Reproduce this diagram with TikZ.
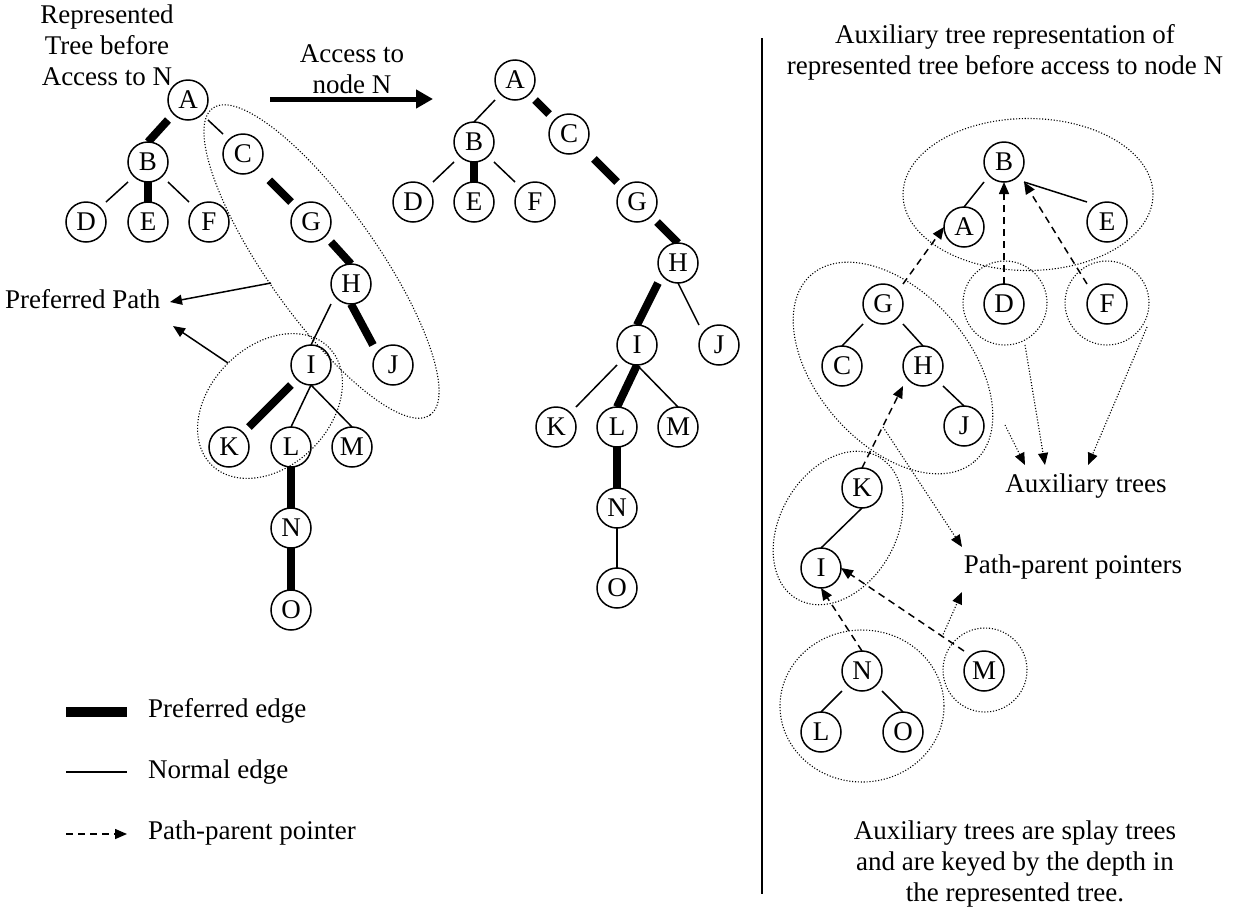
\documentclass[tikz,border=0pt]{standalone}
\usepackage{fontspec}
\setmainfont{Liberation Serif}
\usetikzlibrary{arrows.meta}
\pgfdeclarelayer{edges}
\pgfsetlayers{edges,main}
\begin{document}
\begin{tikzpicture}[x=1pt,y=-1pt,
  every node/.style={font=\fontsize{27}{31}\selectfont},
  vert/.style={draw, fill=white, rectangle, rounded corners=20pt, minimum size=40pt, inner sep=0pt, outer sep=0pt, line width=1.5pt},
  txt/.style={align=center, inner sep=0pt},
  normaledge/.style={line width=1.5pt},
  prefedge/.style={line width=8pt},
  ptr/.style={line width=1.5pt, dash pattern=on 7pt off 5pt, -{Triangle[length=12pt,width=10pt]}},
  grp/.style={line width=1.1pt, dash pattern=on 1.1pt off 1.8pt},
  notearrow/.style={line width=1.1pt, dash pattern=on 1.1pt off 1.8pt, -{Triangle[length=12pt,width=10pt]}},
  labelarrow/.style={line width=1.5pt, -{Triangle[length=12pt,width=10pt]}},
]
\path[use as bounding box] (0,0) rectangle (1237,911);

% ---------------- texts ----------------
\node[txt] (reptitle) at (107,45) {Represented\\Tree before\\Access to N};
\node[txt] (acctext) at (352,69.5) {Access to\\node N};
\node[txt, anchor=base west] (pptext) at (5,308) {Preferred Path};
\node[txt] (auxtitle) at (1005,52) {Auxiliary tree representation of\\represented tree before access to node N};
\node[txt, anchor=base] (auxtrees) at (1086,492) {Auxiliary trees};
\node[txt, anchor=base] (ppptext) at (1073,573) {Path-parent pointers};
\node[txt] (notetext) at (1015,864) {Auxiliary trees are splay trees\\and are keyed by the depth in\\the represented tree.};

% ---------------- left tree ----------------
\node[vert] (lA) at (188,100) {A};
\node[vert] (lB) at (148,162) {B};
\node[vert] (lC) at (243,154) {C};
\node[vert] (lD) at (86,222) {D};
\node[vert] (lE) at (148,222) {E};
\node[vert] (lF) at (209,222) {F};
\node[vert] (lG) at (311,222) {G};
\node[vert] (lH) at (351,284) {H};
\node[vert] (lI) at (311,365) {I};
\node[vert] (lJ) at (393,365) {J};
\node[vert] (lK) at (229,447) {K};
\node[vert] (lL) at (291,447) {L};
\node[vert] (lM) at (352,447) {M};
\node[vert] (lN) at (291,528) {N};
\node[vert] (lO) at (291,610) {O};

% ---------------- middle tree ----------------
\node[vert] (mA) at (515,80) {A};
\node[vert] (mB) at (474,142) {B};
\node[vert] (mC) at (569,134) {C};
\node[vert] (mD) at (413,202) {D};
\node[vert] (mE) at (474,202) {E};
\node[vert] (mF) at (535,202) {F};
\node[vert] (mG) at (637,202) {G};
\node[vert] (mH) at (678,263) {H};
\node[vert] (mI) at (637,345) {I};
\node[vert] (mJ) at (719,345) {J};
\node[vert] (mK) at (556,427) {K};
\node[vert] (mL) at (617,427) {L};
\node[vert] (mM) at (678,427) {M};
\node[vert] (mN) at (617,508) {N};
\node[vert] (mO) at (617,588) {O};

% ---------------- right (auxiliary) trees ----------------
\node[vert] (rB) at (1004,162) {B};
\node[vert] (rA) at (964,227) {A};
\node[vert] (rE) at (1107,222) {E};
\node[vert] (rG) at (883,304) {G};
\node[vert] (rD) at (1004,304) {D};
\node[vert] (rF) at (1107,304) {F};
\node[vert] (rC) at (842,366) {C};
\node[vert] (rH) at (923,366) {H};
\node[vert] (rJ) at (964,426) {J};
\node[vert] (rK) at (862,488) {K};
\node[vert] (rI) at (821,568) {I};
\node[vert] (rN) at (862,671) {N};
\node[vert] (rM) at (984,671) {M};
\node[vert] (rL) at (821,732) {L};
\node[vert] (rO) at (903,732) {O};

% free-end coordinates
\coordinate (accS) at (270,99);
\coordinate (accE) at (433,99);
\coordinate (ppA) at (271,283);
\coordinate (ppAend) at (170,302);
\coordinate (ppB) at (228,363);
\coordinate (ppBend) at (173,326);
\coordinate (aux1s) at (1005,425);
\coordinate (aux1e) at (1025,465);
\coordinate (aux2s) at (1025,345);
\coordinate (aux2e) at (1045,465);
\coordinate (aux3s) at (1147,327);
\coordinate (aux3e) at (1088,465);
\coordinate (ppp1s) at (883,427);
\coordinate (ppp1e) at (962,547);
\coordinate (ppp2s) at (942,637);
\coordinate (ppp2e) at (962,592);
\coordinate (sepT) at (762,38);
\coordinate (sepB) at (762,894);
\coordinate (legPs) at (66,712);
\coordinate (legPe) at (127,712);
\coordinate (legNs) at (66,772);
\coordinate (legNe) at (127,772);
\coordinate (legDs) at (66,834);
\coordinate (legDe) at (127,834);

\begin{pgfonlayer}{edges}
% left tree edges
\draw[prefedge] (lA.south west) -- (lB.north);
\draw[normaledge] (lA.south east) -- (lC.north west);
\draw[normaledge] (lB.south west) -- (lD.north east);
\draw[prefedge] (lB.south) -- (lE.north);
\draw[normaledge] (lB.south east) -- (lF.north west);
\draw[prefedge, shorten <=9pt] (lC.south east) -- (lG.north west);
\draw[prefedge] (lG.south east) -- (lH.north);
\draw[normaledge] (lH.south west) -- (lI.north);
\draw[prefedge] (lH.south) -- (lJ.north west);
\draw[prefedge] (lI.south west) -- (lK.north east);
\draw[normaledge] (lI.south) -- (lL.north);
\draw[normaledge] (lI.south) -- (lM.north);
\draw[prefedge] (lL.south) -- (lN.north);
\draw[prefedge] (lN.south) -- (lO.north);
% middle tree edges
\draw[normaledge] (mA.south west) -- (mB.north);
\draw[prefedge] (mA.south east) -- (mC.north west);
\draw[normaledge] (mB.south west) -- (mD.north east);
\draw[prefedge] (mB.south) -- (mE.north);
\draw[normaledge] (mB.south east) -- (mF.north west);
\draw[prefedge, shorten <=7pt] (mC.south east) -- (mG.north west);
\draw[prefedge] (mG.south east) -- (mH.north);
\draw[prefedge] (mH.south west) -- (mI.north);
\draw[normaledge] (mH.south) -- (mJ.north west);
\draw[normaledge] (mI.south west) -- (mK.north east);
\draw[prefedge] (mI.south) -- (mL.north);
\draw[normaledge] (mI.south) -- (mM.north);
\draw[prefedge] (mL.south) -- (mN.north);
\draw[normaledge] (mN.south) -- (mO.north);
% right tree edges
\draw[normaledge] (rB.south west) -- (rA.north);
\draw[normaledge] (rB.south east) -- (rE.north west);
\draw[normaledge] (rG.south west) -- (rC.north);
\draw[normaledge] (rG.south east) -- (rH.north);
\draw[normaledge] (rH.south east) -- (rJ.north);
\draw[normaledge] (rK.south) -- (rI.north);
\draw[normaledge] (rN.south west) -- (rL.north);
\draw[normaledge] (rN.south east) -- (rO.north);
% path-parent pointers
\draw[ptr] (rD.north) -- (rB.south);
\draw[ptr] (rF.north west) -- (rB.south east);
\draw[ptr] (rG.north east) -- (rA.west);
\draw[ptr] (rK.north) -- (rH.south west);
\draw[ptr] (rN.north) -- (rI.south);
\draw[ptr] (rM.north west) -- (rI.east);
\end{pgfonlayer}

% groups (dotted)
\draw[grp, rotate around={-54.7:(321.5,261.5)}] (321.5,261.5) ellipse [x radius=188pt, y radius=55pt];
\draw[grp, rotate around={45:(270,406)}] (270,406) ellipse [x radius=83pt, y radius=60pt];
\draw[grp] (1028,194.5) ellipse [x radius=125pt, y radius=76pt];
\draw[grp, rotate around={-48.7:(893,368)}] (893,368) ellipse [x radius=124pt, y radius=76pt];
\draw[grp, rotate around={60:(838,528)}] (838,528) ellipse [x radius=82pt, y radius=58pt];
\draw[grp] (862,706) ellipse [x radius=82pt, y radius=76pt];
\draw[grp] (1005,303) circle [radius=42pt];
\draw[grp] (1107,303) circle [radius=42pt];
\draw[grp] (985,670) circle [radius=42pt];

% annotation arrows
\draw[line width=5pt, -{Triangle[length=17pt,width=18pt]}] (accS) -- (accE);
\draw[labelarrow] (ppA) -- (ppAend);
\draw[labelarrow] (ppB) -- (ppBend);
\draw[notearrow] (aux1s) -- (aux1e);
\draw[notearrow] (aux2s) -- (aux2e);
\draw[notearrow] (aux3s) -- (aux3e);
\draw[notearrow] (ppp1s) -- (ppp1e);
\draw[notearrow] (ppp2s) -- (ppp2e);

% separator
\draw[line width=1.5pt] (sepT) -- (sepB);

% legend
\draw[line width=10pt] (legPs) -- (legPe);
\draw[normaledge] (legNs) -- (legNe);
\draw[ptr] (legDs) -- (legDe);
\node[txt, anchor=base west] (legP) at (148,717) {Preferred edge};
\node[txt, anchor=base west] (legN) at (148,778) {Normal edge};
\node[txt, anchor=base west] (legD) at (148,839) {Path-parent pointer};
\end{tikzpicture}
\end{document}
